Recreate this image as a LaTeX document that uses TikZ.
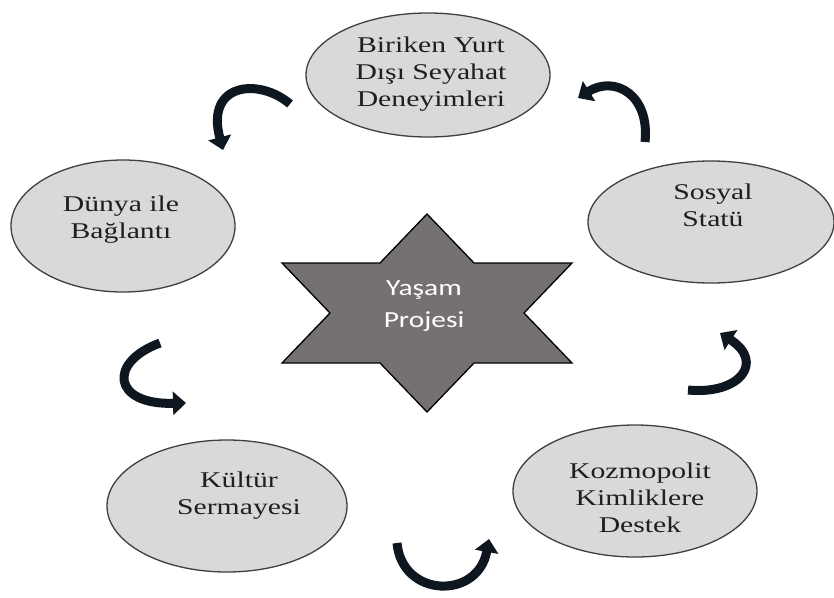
\documentclass[tikz,border=0pt]{standalone}
\usepackage{fontspec}
\setmainfont{Liberation Serif}
\newfontfamily\starfont{Carlito}
\usepackage{graphicx}
\usetikzlibrary{shapes.geometric,arrows.meta}

\definecolor{ovalfill}{HTML}{D9D9D9}
\definecolor{ovaledge}{HTML}{3F3F3F}
\definecolor{starfill}{HTML}{767171}
\definecolor{arrowink}{HTML}{0E1620}

% wide, slightly stretched centred lines of text
\newcommand\widetext[2][1.32]{\scalebox{#1}[1]{\begin{tabular}{@{}c@{}}#2\end{tabular}}}

\tikzset{
  oval/.style={ellipse, draw=ovaledge, fill=ovalfill, line width=1.3pt, inner sep=0pt},
  ovaltext/.style={text=black!88, font=\fontsize{22.5}{27}\selectfont, inner sep=0pt},
  startext/.style={text=white, font=\starfont\fontsize{23}{32}\selectfont, inner sep=0pt},
  turnarrow/.style={draw=arrowink, line width=9pt, -{Triangle[length=13pt,width=23pt]}},
}

\begin{document}
\begin{tikzpicture}[x=1pt,y=-1pt]
\useasboundingbox (0,0) rectangle (834,597);

% the five ovals
\node[oval, minimum width=244pt, minimum height=124pt] (trip) at (428,75) {};
\node[oval, minimum width=246pt, minimum height=122pt] (status) at (711,222) {};
\node[oval, minimum width=224pt, minimum height=132pt] (world) at (123,226) {};
\node[oval, minimum width=240pt, minimum height=132pt] (culture) at (227,506) {};
\node[oval, minimum width=244pt, minimum height=132pt] (cosmo) at (635,491) {};

\node[ovaltext] (tripT) at (431,74) {\widetext{Biriken Yurt\\Dışı Seyahat\\Deneyimleri}};
\node[ovaltext] (statusT) at (713,208) {\widetext{Sosyal\\Statü}};
\node[ovaltext] (worldT) at (121,220) {\widetext{Dünya ile\\Bağlantı}};
\node[ovaltext] (cultureT) at (239,496) {\widetext{Kültür\\Sermayesi}};
\node[ovaltext] (cosmoT) at (640,500) {\widetext{Kozmopolit\\Kimliklere\\Destek}};

% central six-pointed star
\draw[fill=starfill, draw=black, line width=1.3pt, line join=miter]
  (427,214) -- (474,263) -- (572,263) -- (524,313) -- (572,363) -- (474,363)
  -- (427,412) -- (380,363) -- (282,363) -- (330,313) -- (282,263) -- (380,263) -- cycle;
\node[startext] (project) at (424,305) {\widetext[1.28]{Yaşam\\Projesi}};

% curved arrows between the ovals
\coordinate (a1s) at (290,104); \coordinate (a1e) at (223,150);
\coordinate (a2s) at (645,142); \coordinate (a2e) at (578,98);
\coordinate (a3s) at (688,390); \coordinate (a3e) at (720,333);
\coordinate (a4s) at (160,343); \coordinate (a4e) at (186,403);
\coordinate (a5s) at (397,543); \coordinate (a5e) at (489,539);

\draw[turnarrow] (a1s) .. controls (260,78) and (205,82) .. (a1e);
\draw[turnarrow] (a2s) .. controls (650,95) and (615,75) .. (a2e);
\draw[turnarrow] (a3s) .. controls (740,395) and (765,362) .. (a3e);
\draw[turnarrow] (a4s) .. controls (108,362) and (112,405) .. (a4e);
\draw[turnarrow] (a5s) .. controls (402,598) and (478,600) .. (a5e);
\end{tikzpicture}
\end{document}
